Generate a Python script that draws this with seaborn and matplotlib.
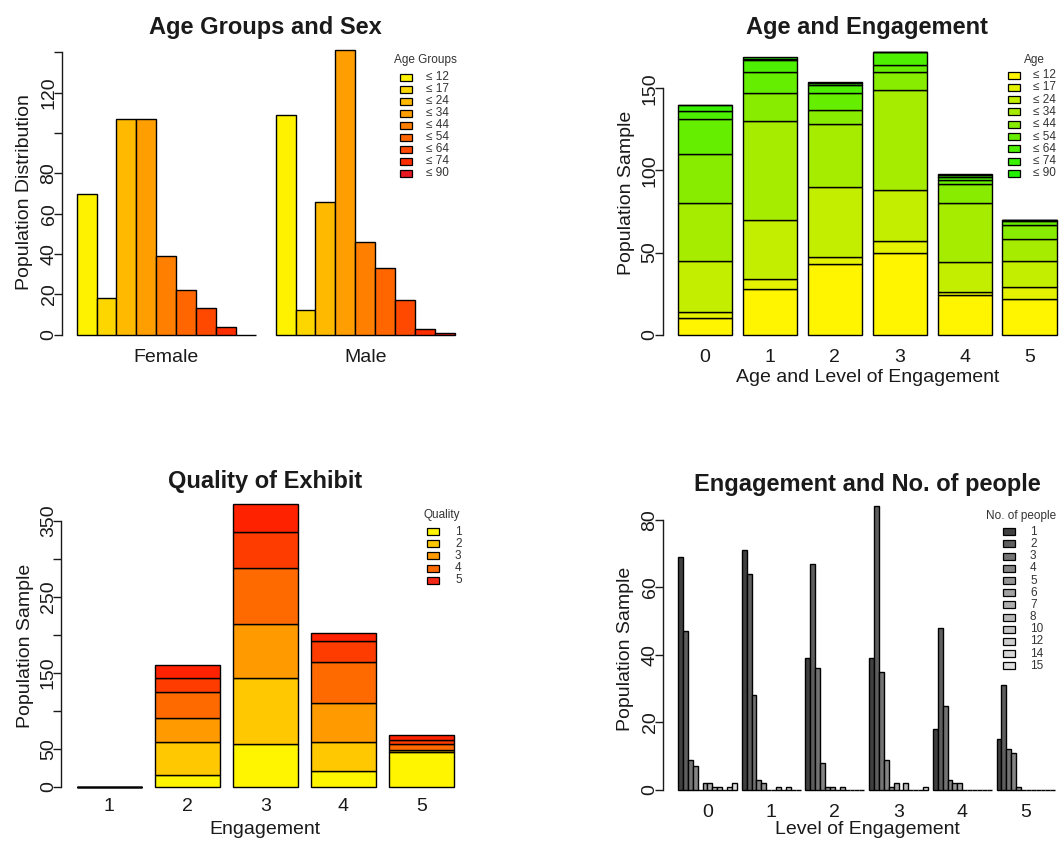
import matplotlib
matplotlib.use("Agg")
import matplotlib.pyplot as plt
from matplotlib.patches import Rectangle
import numpy as np
import pandas as pd
import seaborn as sns

W, H = 1060, 843

# ---- top left: age groups by sex
age_groups = ["≤ 12", "≤ 17", "≤ 24", "≤ 34", "≤ 44", "≤ 54", "≤ 64", "≤ 74", "≤ 90"]
sexes = ["Female", "Male"]
female_counts = [70, 18, 107, 107, 39, 22, 13, 4, 0]
male_counts = [109, 12, 66, 141, 46, 33, 17, 3, 1]
heat_cols = ["#FFF200", "#FDD600", "#FFBA00", "#FF9E00", "#FF8000",
             "#FF6600", "#FF4800", "#FF2E00", "#E81820"]

# ---- top right: age by level of engagement (stacked)
engagement_levels = [0, 1, 2, 3, 4, 5]
age_by_engagement = {
    "≤ 12": [10, 28, 43, 50, 24, 22],
    "≤ 17": [4, 6, 4, 7, 2, 7],
    "≤ 24": [31, 36, 43, 31, 18, 16],
    "≤ 34": [35, 60, 38, 61, 36, 13],
    "≤ 44": [30, 17, 9, 11, 12, 9],
    "≤ 54": [21, 13, 10, 4, 2, 2],
    "≤ 64": [5, 7, 5, 8, 2, 1],
    "≤ 74": [4, 1, 1, 0, 1, 0],
    "≤ 90": [0, 1, 1, 0, 1, 0],
}
green_cols = ["#FFF500", "#E4F200", "#C4EE00", "#A6EC00", "#88EC00",
              "#66EE00", "#4CF000", "#38F000", "#22EE00"]

# ---- bottom left: quality of exhibit by engagement (stacked)
quality_engagement = [1, 2, 3, 4, 5]
quality_labels = ["1", "2", "3", "4", "5"]
quality_segments = ["q1", "q2", "q3", "q4", "q5", "q6"]
quality_by_engagement = {
    "q1": [0, 16, 56, 21, 46],
    "q2": [0, 43, 87, 38, 2],
    "q3": [0, 32, 71, 51, 1],
    "q4": [0, 34, 74, 55, 8],
    "q5": [0, 19, 47, 27, 5],
    "q6": [0, 16, 37, 10, 7],
}
quality_cols = ["#FFF500", "#FFC800", "#FF9A00", "#FF6A00", "#FF3C00", "#FF2200"]
quality_legend_cols = ["#FFF500", "#FFC800", "#FF9A00", "#FF6A00", "#F42818"]

# ---- bottom right: engagement and no. of people (grouped)
people_levels = ["1", "2", "3", "4", "5", "6", "7", "8", "10", "12", "14", "15"]
people_by_engagement = {
    0: [69, 47, 9, 7, 0, 2, 2, 1, 1, 0, 1, 2],
    1: [71, 64, 28, 3, 2, 0, 0, 1, 0, 1, 0, 0],
    2: [39, 67, 36, 8, 1, 1, 0, 1, 0, 0, 0, 0],
    3: [39, 84, 35, 9, 1, 2, 0, 2, 0, 0, 0, 1],
    4: [18, 48, 25, 3, 2, 2, 0, 0, 0, 0, 0, 0],
    5: [15, 31, 12, 11, 1, 0, 0, 0, 0, 0, 0, 0],
}
grey_vals = np.linspace(0.25 ** 2.2, 0.88 ** 2.2, len(people_levels)) ** (1 / 2.2)
grey_cols = [matplotlib.colors.to_hex((v, v, v)) for v in grey_vals]

sns.set_style("white")
plt.rcParams["font.family"] = ["Liberation Sans", "DejaVu Sans"]
plt.rcParams["text.color"] = "#1a1a1a"
plt.rcParams["axes.labelcolor"] = "#1a1a1a"
plt.rcParams["xtick.color"] = "#1a1a1a"
plt.rcParams["ytick.color"] = "#1a1a1a"

fig = plt.figure(figsize=(W / 100, H / 100), dpi=100)


def px_axes(left, top, right, bottom):
    return fig.add_axes([left / W, 1 - bottom / H, (right - left) / W, (bottom - top) / H])


def r_style(ax, rect, xlim, ylim, yticks, ylabels, title, xlabel, ylabel,
            xpad, xlab_top, ylab_right):
    left, top, right, bottom = rect
    ax.set_xlim(xlim)
    ax.set_ylim(ylim)
    for s in ["top", "right", "bottom"]:
        ax.spines[s].set_visible(False)
    ax.spines["left"].set_bounds(yticks[0], yticks[-1])
    ax.spines["left"].set_linewidth(1.0)
    ax.spines["left"].set_color("#1a1a1a")
    ax.set_yticks(yticks)
    ax.set_yticklabels(ylabels, rotation=90, va="center")
    ax.tick_params(axis="y", length=6, width=1, pad=-3, labelsize=14, left=True)
    ax.tick_params(axis="x", length=0, pad=xpad, labelsize=14)
    ax.set_title(title, fontsize=17, fontweight="bold", pad=3.5)
    ax.set_xlabel(xlabel, fontsize=14)
    ax.set_ylabel(ylabel, fontsize=14)
    ax.xaxis.set_label_coords(0.5, (bottom - xlab_top) / (bottom - top))
    ax.yaxis.set_label_coords((ylab_right - left) / (right - left), 0.5)
    ax.grid(False)


def r_legend(title, labels, colors, title_x, title_y, patch_x, label_x, row_y0, step):
    fig.text(title_x / W, 1 - title_y / H, title, ha="center", va="center",
             fontsize=8.5, color="#333333")
    for i, (lab, col) in enumerate(zip(labels, colors)):
        y = row_y0 + i * step
        fig.add_artist(Rectangle((patch_x / W, 1 - (y + 3.5) / H), 12 / W, 7 / H,
                                 transform=fig.transFigure, facecolor=col,
                                 edgecolor="black", linewidth=0.9))
        fig.text(label_x / W, 1 - y / H, lab, ha="left", va="center",
                 fontsize=8.5, color="#333333")


# ---------------- top left
df_sex = pd.DataFrame({
    "sex": np.repeat(sexes, len(age_groups)),
    "age": age_groups * 2,
    "count": female_counts + male_counts,
})
rect = (61.7, 39, 469.9, 346)
ax1 = px_axes(*rect)
sns.barplot(data=df_sex, x="sex", y="count", hue="age", hue_order=age_groups,
            order=sexes, palette=heat_cols, width=0.9, saturation=1,
            edgecolor="black", linewidth=1.0, errorbar=None, legend=False, ax=ax1)
r_style(ax1, rect, (-0.525, 1.526), (-5.6, 146.6), list(range(0, 141, 20)),
        ["0", "20", "40", "60", "80", "", "120", ""], "Age Groups and Sex",
        "", "Population Distribution", 2.2, 369, 33.5)
r_legend("Age Groups", age_groups, heat_cols, 425, 60, 400, 426, 77.5, 12.0)

# ---------------- top right
df_age = pd.DataFrame([
    {"engagement": e, "age": a, "count": age_by_engagement[a][i]}
    for a in age_groups for i, e in enumerate(engagement_levels)
])
rect = (662.7, 39, 1071.7, 346)
ax2 = px_axes(*rect)
sns.histplot(data=df_age, x="engagement", weights="count", hue="age",
             hue_order=age_groups[::-1], palette=dict(zip(age_groups, green_cols)),
             multiple="stack", discrete=True, shrink=0.833, alpha=1,
             edgecolor="black", linewidth=1.0, legend=False, ax=ax2)
ax2.set_xticks(engagement_levels)
ax2.set_xticklabels([str(e) for e in engagement_levels])
r_style(ax2, rect, (-0.652, 5.650), (-6.88, 180.0), [0, 50, 100, 150],
        ["0", "50", "100", "150"], "Age and Engagement",
        "Age and Level of Engagement", "Population Sample", 2.2, 369, 635)
r_legend("Age", age_groups, green_cols, 1034, 60, 1008, 1033, 75, 12.3)

# ---------------- bottom left
df_q = pd.DataFrame([
    {"engagement": e, "quality": q, "count": quality_by_engagement[q][i]}
    for q in quality_segments for i, e in enumerate(quality_engagement)
])
rect = (61, 493, 469, 798)
ax3 = px_axes(*rect)
sns.histplot(data=df_q, x="engagement", weights="count", hue="quality",
             hue_order=quality_segments[::-1],
             palette=dict(zip(quality_segments, quality_cols)),
             multiple="stack", discrete=True, shrink=0.833, alpha=1,
             edgecolor="black", linewidth=1.0, legend=False, ax=ax3)
ax3.set_xticks(quality_engagement)
ax3.set_xticklabels([str(e) for e in quality_engagement])
r_style(ax3, rect, (0.379, 5.610), (-14.5, 386.8), list(range(0, 351, 50)),
        ["0", "50", "", "150", "", "250", "", "350"], "Quality of Exhibit",
        "Engagement", "Population Sample", 0, 820.5, 33.5)
r_legend("Quality", quality_labels, quality_legend_cols, 442, 515, 427, 455, 531.7, 12.1)

# ---------------- bottom right
df_p = pd.DataFrame([
    {"engagement": e, "people": p, "count": people_by_engagement[e][i]}
    for e in engagement_levels for i, p in enumerate(people_levels)
])
rect = (662.7, 496, 1071.7, 801)
ax4 = px_axes(*rect)
sns.barplot(data=df_p, x="engagement", y="count", hue="people",
            hue_order=people_levels, palette=grey_cols, width=0.923, saturation=1,
            edgecolor="black", linewidth=1.0, errorbar=None, legend=False, ax=ax4)
r_style(ax4, rect, (-0.702, 5.719), (-3.26, 87.1), [0, 20, 40, 60, 80],
        ["0", "20", "40", "60", "80"], "Engagement and No. of people",
        "Level of Engagement", "Population Sample", 2.2, 821, 633.5)
r_legend("No. of people", people_levels, grey_cols, 1021, 516, 1003, 1030, 531.7, 12.2)

fig.savefig("out.png", dpi=100)
